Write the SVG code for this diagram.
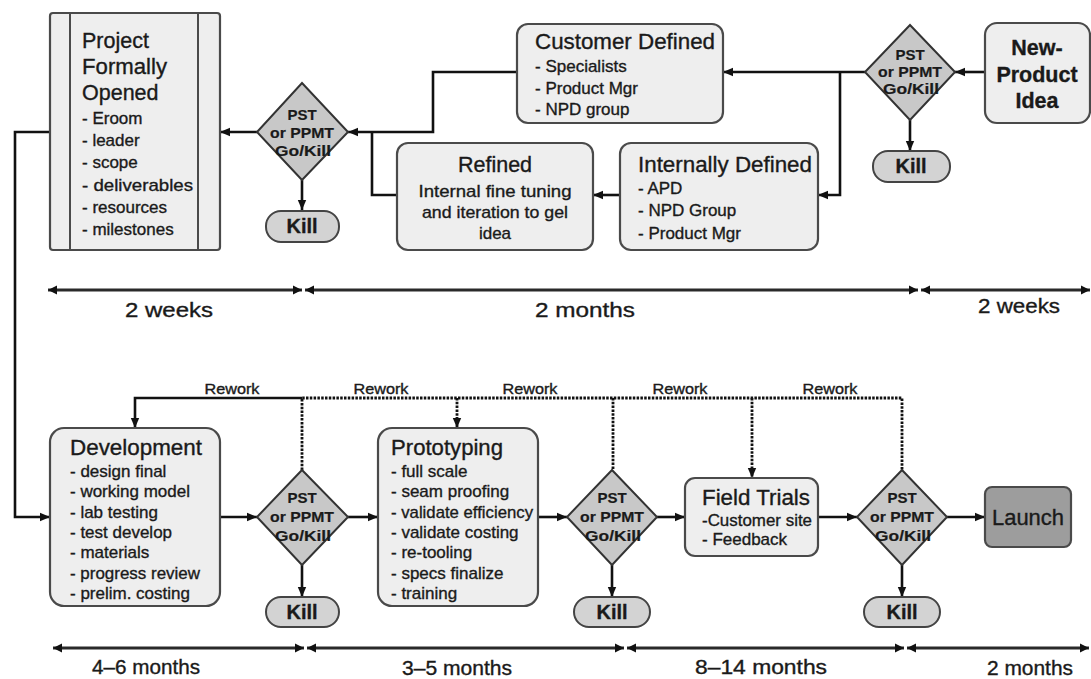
<svg xmlns="http://www.w3.org/2000/svg" width="1091" height="679" viewBox="0 0 1091 679">
<style>
text{font-family:"Liberation Sans",Arial,sans-serif;fill:#1a1a1a;stroke:#1a1a1a;stroke-width:0.35}
.box{fill:#eeeeee;stroke:#4a4a4a;stroke-width:2.2}
.dia{fill:#c8c8c8;stroke:#333;stroke-width:2}
.kill{fill:#d3d3d3;stroke:#444;stroke-width:2}
.launch{fill:#9d9d9d;stroke:#4a4a4a;stroke-width:2.2}
.t{font-size:21.5px}
.i{font-size:17px}
.d{font-size:15px;font-weight:bold;text-anchor:middle;stroke-width:0.2}
.k{font-size:20px;font-weight:bold;text-anchor:middle}
.c{text-anchor:middle}
.ln{fill:none;stroke:#111;stroke-width:2.6}
.dot{fill:none;stroke:#111;stroke-width:2.8;stroke-dasharray:2.5 1.3}
.tl{fill:none;stroke:#2a2a2a;stroke-width:3}
.tlab{font-size:20px}
.rw{font-size:14px;text-anchor:middle}
</style>
<defs>
<marker id="ah" markerUnits="userSpaceOnUse" markerWidth="10" markerHeight="10" viewBox="0 0 10 10" refX="10" refY="5" orient="auto">
<path d="M0,0.8 L10,5 L0,9.2 Z" fill="#111"/>
</marker>
<marker id="th" markerUnits="userSpaceOnUse" markerWidth="9" markerHeight="10" viewBox="0 0 9 10" refX="9" refY="5" orient="auto-start-reverse">
<path d="M0,0.5 L9,5 L0,9.5 Z" fill="#111"/>
</marker>
</defs>
<rect width="1091" height="679" fill="#fff"/>

<g id="connectors">
<line class="ln" x1="985" y1="72" x2="955" y2="72" marker-end="url(#ah)"/>
<line class="ln" x1="865" y1="72" x2="723" y2="72" marker-end="url(#ah)"/>
<path class="ln" d="M840,72 V195 H818" marker-end="url(#ah)"/>
<line class="ln" x1="910" y1="120" x2="910" y2="151" marker-end="url(#ah)"/>
<path class="ln" d="M517,72 H433 V132 H348" marker-end="url(#ah)"/>
<path class="ln" d="M397,195 H372 V132"/>
<line class="ln" x1="620" y1="195" x2="593" y2="195" marker-end="url(#ah)"/>
<line class="ln" x1="257" y1="132" x2="220" y2="132" marker-end="url(#ah)"/>
<line class="ln" x1="302" y1="180" x2="302" y2="210" marker-end="url(#ah)"/>
<path class="ln" d="M50,132 H15 V517 H50" marker-end="url(#ah)"/>
<line class="ln" x1="220" y1="517" x2="257" y2="517" marker-end="url(#ah)"/>
<line class="ln" x1="348" y1="517" x2="378" y2="517" marker-end="url(#ah)"/>
<line class="ln" x1="538" y1="517" x2="567" y2="517" marker-end="url(#ah)"/>
<line class="ln" x1="657" y1="517" x2="685" y2="517" marker-end="url(#ah)"/>
<line class="ln" x1="818" y1="517" x2="857" y2="517" marker-end="url(#ah)"/>
<line class="ln" x1="947" y1="517" x2="985" y2="517" marker-end="url(#ah)"/>
<line class="ln" x1="302" y1="565" x2="302" y2="597" marker-end="url(#ah)"/>
<line class="ln" x1="612" y1="565" x2="612" y2="597" marker-end="url(#ah)"/>
<line class="ln" x1="902" y1="565" x2="902" y2="597" marker-end="url(#ah)"/>
<path class="ln" d="M302,398 H135 V428" marker-end="url(#ah)"/>
<path class="dot" d="M302,470 V398 H902 V470"/>
<path class="dot" d="M457,398 V428" marker-end="url(#ah)"/>
<path class="dot" d="M613,398 V470"/>
<path class="dot" d="M752,398 V478" marker-end="url(#ah)"/>
<text class="rw" x="232" y="394" textLength="55" lengthAdjust="spacingAndGlyphs">Rework</text>
<text class="rw" x="381" y="394" textLength="55" lengthAdjust="spacingAndGlyphs">Rework</text>
<text class="rw" x="530" y="394" textLength="55" lengthAdjust="spacingAndGlyphs">Rework</text>
<text class="rw" x="680" y="394" textLength="55" lengthAdjust="spacingAndGlyphs">Rework</text>
<text class="rw" x="830" y="394" textLength="55" lengthAdjust="spacingAndGlyphs">Rework</text>
</g>

<g id="timeline">
<line class="tl" x1="48" y1="290" x2="302" y2="290" marker-start="url(#th)" marker-end="url(#th)"/>
<line class="tl" x1="305" y1="290" x2="918" y2="290" marker-start="url(#th)" marker-end="url(#th)"/>
<line class="tl" x1="921" y1="290" x2="1090" y2="290" marker-start="url(#th)" marker-end="url(#th)"/>
<text class="tlab" x="125" y="317" textLength="88" lengthAdjust="spacingAndGlyphs">2  weeks</text>
<text class="tlab" x="535" y="317" textLength="100" lengthAdjust="spacingAndGlyphs">2  months</text>
<text class="tlab" x="978" y="313" textLength="82" lengthAdjust="spacingAndGlyphs">2 weeks</text>
<line class="tl" x1="53" y1="648" x2="304" y2="648" marker-start="url(#th)" marker-end="url(#th)"/>
<line class="tl" x1="307" y1="648" x2="624" y2="648" marker-start="url(#th)" marker-end="url(#th)"/>
<line class="tl" x1="627" y1="648" x2="904" y2="648" marker-start="url(#th)" marker-end="url(#th)"/>
<line class="tl" x1="907" y1="648" x2="1089" y2="648" marker-start="url(#th)" marker-end="url(#th)"/>
<text class="tlab" x="92" y="674" textLength="108" lengthAdjust="spacingAndGlyphs">4–6 months</text>
<text class="tlab" x="402" y="675" textLength="110" lengthAdjust="spacingAndGlyphs">3–5 months</text>
<text class="tlab" x="695" y="674" textLength="132" lengthAdjust="spacingAndGlyphs">8–14 months</text>
<text class="tlab" x="987" y="675" textLength="86" lengthAdjust="spacingAndGlyphs">2 months</text>
</g>

<g id="project-opened">
<rect class="box" x="50" y="13" width="170" height="237" rx="3"/>
<line x1="70" y1="13" x2="70" y2="250" stroke="#4a4a4a" stroke-width="2"/>
<line x1="198" y1="13" x2="198" y2="250" stroke="#4a4a4a" stroke-width="2"/>
<text class="t" x="82" y="48" font-size="22">Project</text>
<text class="t" x="82" y="74" textLength="85" lengthAdjust="spacingAndGlyphs">Formally</text>
<text class="t" x="82" y="100">Opened</text>
<text class="i" x="82" y="124">- Eroom</text>
<text class="i" x="82" y="146">- leader</text>
<text class="i" x="82" y="168">- scope</text>
<text class="i" x="82" y="191" textLength="111" lengthAdjust="spacingAndGlyphs">- deliverables</text>
<text class="i" x="82" y="213">- resources</text>
<text class="i" x="82" y="235">- milestones</text>
</g>

<g id="gate1">
<polygon class="dia" points="302,83 348,132 302,180 257,132"/>
<text class="d" x="302" y="120">PST</text>
<text class="d" x="302" y="138" textLength="64" lengthAdjust="spacingAndGlyphs">or PPMT</text>
<text class="d" x="303" y="156" textLength="56" lengthAdjust="spacingAndGlyphs">Go/Kill</text>
</g>
<g id="kill1">
<rect class="kill" x="266" y="211" width="73" height="31" rx="15"/>
<text class="k" x="302" y="233">Kill</text>
</g>

<g id="customer-defined">
<rect class="box" x="517" y="24" width="206" height="99" rx="11"/>
<text class="t" x="535" y="49" textLength="180" lengthAdjust="spacingAndGlyphs">Customer Defined</text>
<text class="i" x="535" y="72">- Specialists</text>
<text class="i" x="535" y="94">- Product Mgr</text>
<text class="i" x="535" y="115">- NPD group</text>
</g>

<g id="refined">
<rect class="box" x="397" y="143" width="196" height="107" rx="11"/>
<text class="t c" x="495" y="172">Refined</text>
<text class="i c" x="495" y="197" textLength="153" lengthAdjust="spacingAndGlyphs">Internal fine tuning</text>
<text class="i c" x="495" y="218" textLength="146" lengthAdjust="spacingAndGlyphs">and iteration to gel</text>
<text class="i c" x="495" y="239">idea</text>
</g>

<g id="internally-defined">
<rect class="box" x="620" y="143" width="198" height="107" rx="11"/>
<text class="t" x="638" y="172" textLength="174" lengthAdjust="spacingAndGlyphs">Internally Defined</text>
<text class="i" x="638" y="194">- APD</text>
<text class="i" x="638" y="216">- NPD Group</text>
<text class="i" x="638" y="239">- Product Mgr</text>
</g>

<g id="gate0">
<polygon class="dia" points="910,25 955,72 910,120 865,72"/>
<text class="d" x="910" y="60">PST</text>
<text class="d" x="910" y="77" textLength="64" lengthAdjust="spacingAndGlyphs">or PPMT</text>
<text class="d" x="911" y="94" textLength="56" lengthAdjust="spacingAndGlyphs">Go/Kill</text>
</g>
<g id="kill0">
<rect class="kill" x="873" y="151" width="77" height="31" rx="15"/>
<text class="k" x="911" y="173">Kill</text>
</g>

<g id="new-product-idea">
<rect class="box" x="985" y="23" width="105" height="100" rx="12"/>
<text class="t c" x="1037" y="55" font-weight="bold">New-</text>
<text class="t c" x="1037" y="82" font-weight="bold">Product</text>
<text class="t c" x="1037" y="108" font-weight="bold">Idea</text>
</g>

<g id="development">
<rect class="box" x="50" y="428" width="170" height="178" rx="14"/>
<text class="t" x="70" y="455" textLength="132" lengthAdjust="spacingAndGlyphs">Development</text>
<text class="i" x="70" y="477">- design final</text>
<text class="i" x="70" y="497">- working model</text>
<text class="i" x="70" y="518">- lab testing</text>
<text class="i" x="70" y="538">- test develop</text>
<text class="i" x="70" y="558">- materials</text>
<text class="i" x="70" y="579" textLength="130" lengthAdjust="spacingAndGlyphs">- progress review</text>
<text class="i" x="70" y="599">- prelim. costing</text>
</g>

<g id="gate2">
<polygon class="dia" points="302,470 348,517 302,565 257,517"/>
<text class="d" x="302" y="503">PST</text>
<text class="d" x="302" y="522" textLength="64" lengthAdjust="spacingAndGlyphs">or PPMT</text>
<text class="d" x="303" y="541" textLength="56" lengthAdjust="spacingAndGlyphs">Go/Kill</text>
</g>
<g id="kill2">
<rect class="kill" x="266" y="597" width="73" height="30" rx="15"/>
<text class="k" x="302" y="619">Kill</text>
</g>

<g id="prototyping">
<rect class="box" x="378" y="428" width="160" height="178" rx="14"/>
<text class="t" x="391" y="455" textLength="112" lengthAdjust="spacingAndGlyphs">Prototyping</text>
<text class="i" x="391" y="477">- full scale</text>
<text class="i" x="391" y="497">- seam proofing</text>
<text class="i" x="391" y="518" textLength="142" lengthAdjust="spacingAndGlyphs">- validate efficiency</text>
<text class="i" x="391" y="538">- validate costing</text>
<text class="i" x="391" y="558">- re-tooling</text>
<text class="i" x="391" y="579">- specs finalize</text>
<text class="i" x="391" y="599">- training</text>
</g>

<g id="gate3">
<polygon class="dia" points="612,470 657,517 612,565 567,517"/>
<text class="d" x="612" y="503">PST</text>
<text class="d" x="612" y="522" textLength="64" lengthAdjust="spacingAndGlyphs">or PPMT</text>
<text class="d" x="613" y="541" textLength="56" lengthAdjust="spacingAndGlyphs">Go/Kill</text>
</g>
<g id="kill3">
<rect class="kill" x="574" y="597" width="76" height="30" rx="15"/>
<text class="k" x="612" y="619">Kill</text>
</g>

<g id="field-trials">
<rect class="box" x="685" y="478" width="133" height="78" rx="10"/>
<text class="t" x="702" y="505" textLength="108" lengthAdjust="spacingAndGlyphs">Field Trials</text>
<text class="i" x="702" y="526" textLength="110" lengthAdjust="spacingAndGlyphs">-Customer site</text>
<text class="i" x="702" y="545">- Feedback</text>
</g>

<g id="gate4">
<polygon class="dia" points="902,470 947,517 902,565 857,517"/>
<text class="d" x="902" y="503">PST</text>
<text class="d" x="902" y="522" textLength="64" lengthAdjust="spacingAndGlyphs">or PPMT</text>
<text class="d" x="903" y="541" textLength="56" lengthAdjust="spacingAndGlyphs">Go/Kill</text>
</g>
<g id="kill4">
<rect class="kill" x="864" y="597" width="76" height="30" rx="15"/>
<text class="k" x="902" y="619">Kill</text>
</g>

<g id="launch">
<rect class="launch" x="985" y="487" width="86" height="60" rx="7"/>
<text class="t c" x="1028" y="525" textLength="72" lengthAdjust="spacingAndGlyphs">Launch</text>
</g>
</svg>
